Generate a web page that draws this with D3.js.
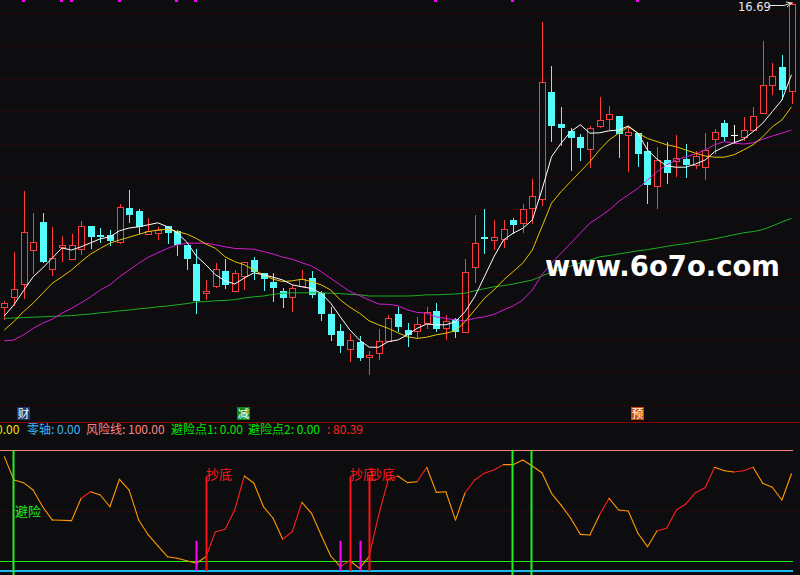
<!DOCTYPE html>
<html><head><meta charset="utf-8">
<script src="https://cdn.jsdelivr.net/npm/d3@7"></script>
<style>html,body{margin:0;padding:0;background:#0d0d10;overflow:hidden}svg{display:block}</style>
</head><body>
<svg id="c" width="800" height="575"></svg>
<script>
// ---------- data ----------
const opens  = [9.06,9.31,9.63,10.48,11.19,10.01,10.57,10.27,10.51,11.09,10.87,10.87,10.70,11.54,11.47,10.88,10.92,11.09,10.97,10.62,10.14,9.41,9.60,9.97,9.47,9.85,10.24,9.91,9.69,9.47,9.32,9.60,9.79,9.42,8.89,8.47,8.02,8.20,7.82,7.91,8.22,8.89,8.49,8.47,8.67,8.97,8.53,8.76,8.43,10.07,10.82,10.74,10.76,11.24,11.16,11.53,11.77,14.43,13.64,13.47,13.31,13.01,13.59,13.76,13.84,13.36,13.41,12.97,12.10,12.74,12.72,12.77,12.62,12.57,13.26,13.66,13.36,13.32,13.48,13.91,14.61,15.07,14.47];
const highs  = [9.21,10.45,11.97,11.42,11.42,11.07,10.84,10.89,11.21,11.09,11.04,10.99,11.64,11.99,11.52,11.29,11.07,11.09,10.99,10.62,10.52,9.74,10.16,10.27,9.99,10.18,10.32,9.91,9.91,9.53,9.62,9.99,9.97,9.47,9.07,8.64,8.39,8.34,7.97,8.52,8.87,9.07,8.67,8.81,9.07,9.16,8.87,8.78,10.26,11.37,11.51,11.24,11.24,11.28,11.64,12.26,16.18,15.09,14.06,13.53,13.39,13.59,14.32,14.09,13.84,13.59,13.41,13.20,13.07,13.18,13.37,13.14,12.97,13.42,13.52,13.74,13.62,13.82,14.06,15.72,15.17,15.37,16.69];
const lows   = [8.76,9.12,9.28,9.91,10.18,9.87,10.22,10.26,10.39,10.53,10.70,10.62,10.66,11.19,10.91,10.88,10.77,10.67,10.37,10.02,8.92,9.27,9.57,9.55,9.47,9.52,9.77,9.49,9.22,9.07,8.97,9.60,9.31,8.74,8.24,7.94,7.72,7.74,7.39,7.77,8.22,8.47,8.10,8.28,8.53,8.47,8.27,8.32,8.43,9.70,10.41,10.51,10.57,10.91,10.93,11.16,11.62,13.22,13.12,12.49,12.74,12.57,13.57,13.51,12.82,12.47,12.60,11.67,11.55,12.17,12.34,12.32,12.53,12.27,12.91,13.24,13.16,13.24,13.48,13.91,14.39,14.26,14.16];
const closes = [9.16,9.51,10.93,10.68,10.20,10.28,10.61,10.61,11.08,10.82,10.82,10.72,11.56,11.37,11.07,10.97,10.99,10.92,10.62,10.27,9.22,9.46,10.01,9.62,9.91,10.18,9.93,9.77,9.55,9.30,9.53,9.76,9.37,8.89,8.37,8.09,8.24,7.79,7.86,8.22,8.78,8.56,8.37,8.64,8.93,8.52,8.72,8.45,9.95,10.67,10.77,10.81,11.02,11.12,11.51,11.84,14.68,13.60,13.55,13.28,13.03,13.53,13.74,13.88,13.38,13.43,12.89,12.12,12.74,12.42,12.78,12.62,12.84,12.99,13.43,13.32,13.36,13.49,13.83,14.61,14.85,14.49,16.64];

const maWhite  = [8.84,9.12,9.47,9.82,10.04,10.29,10.54,10.49,10.57,10.67,10.77,10.82,10.97,11.04,11.07,11.12,11.17,11.07,10.92,10.69,10.34,10.12,9.87,9.72,9.64,9.79,9.92,9.87,9.81,9.74,9.62,9.57,9.53,9.41,9.16,8.82,8.49,8.24,8.06,8.06,8.20,8.24,8.37,8.53,8.64,8.62,8.62,8.70,8.95,9.32,9.82,10.32,10.74,10.91,11.03,11.24,11.99,12.82,13.16,13.45,13.62,13.41,13.42,13.47,13.49,13.59,13.41,12.99,12.76,12.59,12.56,12.56,12.64,12.74,12.95,13.07,13.17,13.26,13.45,13.66,13.95,14.24,14.87];
const maYellow = [8.49,8.70,8.95,9.16,9.41,9.66,9.82,9.99,10.20,10.39,10.53,10.66,10.74,10.81,10.88,10.95,10.99,11.01,10.95,10.89,10.78,10.64,10.53,10.32,10.20,10.12,9.99,9.87,9.76,9.70,9.72,9.76,9.70,9.62,9.49,9.24,9.06,8.91,8.72,8.62,8.53,8.42,8.32,8.28,8.31,8.37,8.41,8.47,8.70,8.99,9.28,9.49,9.74,9.95,10.16,10.49,11.07,11.66,11.95,12.20,12.45,12.70,12.99,13.24,13.41,13.57,13.41,13.28,13.20,13.12,13.07,12.99,12.91,12.84,12.81,12.81,12.87,12.99,13.12,13.32,13.57,13.74,14.07];
const maPurple = [8.22,8.24,8.37,8.53,8.66,8.76,8.91,9.03,9.17,9.32,9.49,9.62,9.82,9.99,10.16,10.31,10.42,10.53,10.62,10.66,10.66,10.66,10.62,10.57,10.53,10.52,10.51,10.45,10.39,10.31,10.26,10.17,10.09,9.95,9.78,9.62,9.45,9.35,9.24,9.14,9.13,9.10,8.99,8.93,8.91,8.82,8.78,8.74,8.72,8.78,8.82,8.88,8.99,9.09,9.24,9.49,9.87,10.16,10.41,10.66,10.91,11.16,11.32,11.49,11.70,11.87,12.03,12.24,12.45,12.62,12.74,12.82,12.89,12.99,13.12,13.20,13.16,13.14,13.17,13.26,13.34,13.41,13.49];
const maGreen  = [8.78,8.79,8.80,8.81,8.82,8.83,8.84,8.85,8.87,8.89,8.92,8.94,8.97,8.99,9.02,9.04,9.07,9.09,9.12,9.15,9.19,9.20,9.22,9.23,9.25,9.29,9.32,9.34,9.38,9.41,9.42,9.42,9.42,9.42,9.41,9.40,9.38,9.37,9.34,9.34,9.34,9.34,9.34,9.35,9.37,9.37,9.38,9.39,9.41,9.47,9.52,9.57,9.60,9.64,9.69,9.74,9.84,9.94,10.00,10.09,10.17,10.24,10.32,10.35,10.39,10.43,10.47,10.50,10.54,10.58,10.62,10.65,10.69,10.73,10.77,10.82,10.87,10.92,10.95,11.00,11.09,11.19,11.28];

const indicator = [94.5,75.2,73.0,66.9,53.1,42.1,41.9,41.6,60.1,65.5,62.8,53.1,75.8,66.9,42.1,29.8,20.7,11.8,10.5,8.5,6.4,11.8,32.5,34.5,50.4,78.5,72.5,53.1,43.6,26.2,32.5,56.8,47.7,29.8,12.4,3.6,8.5,2.2,11.8,46.3,75.8,78.5,73.0,73.8,85.7,65.0,65.5,42.1,64.7,75.2,80.7,83.5,87.9,87.9,91.7,86.8,81.2,64.2,54.5,43.6,30.3,29.8,46.3,60.1,50.4,49.6,31.2,20.1,33.3,35.3,50.4,55.4,64.7,68.8,85.7,82.9,81.8,82.9,85.7,72.5,69.2,58.7,80.39];
// 1 = red segment (from bar j to j+1), 0 = orange
const segRed = [0,0,0,0,0,0,0,0,1,0,0,0,0,0,0,0,0,0,0,0,0,1,1,1,1,0,0,0,0,1,1,0,0,0,0,1,0,0,1,1,1,0,0,1,0,0,0,0,1,1,1,1,0,0,0,0,0,0,0,0,0,0,1,0,0,0,0,0,1,1,1,1,1,1,0,0,1,1,0,0,0,0];

const riskLevel = 100, midLevel = 50, lowLevel = 8, zeroLevel = 0;
const avoidBars  = [1,53,55];     // green 避险 verticals
const bottomBars = [21,36,38];    // red 抄底 verticals
const preBars    = [20,35,37];    // magenta short verticals
const bottomTop = 78, preTop = 25;
const topMarks = [2,6,7,12,18,20,45,53,66];
const tags = [{i:2,t:"财",bg:"#1a3a6e"},{i:25,t:"减",bg:"#0f8a10"},{i:66,t:"预",bg:"#c34a0c"}];
const legendItems = [
  {t:"0.00", c:"#f0e000", x:-4},
  {t:"零轴: 0.00", c:"#3cb4f4", x:27},
  {t:"风险线: 100.00", c:"#ff8282", x:86},
  {t:"避险点1: 0.00", c:"#00e600", x:171},
  {t:"避险点2: 0.00", c:"#00e600", x:248},
  {t:": 80.39", c:"#ff2020", x:327}
];

// ---------- drawing ----------
const W=800, H=575, BG="#0d0d10";
const FONT='"Noto Sans CJK SC","Noto Sans",sans-serif';
const svg = d3.select("#c");
svg.append("rect").attr("width",W).attr("height",H).attr("fill",BG);
const n = closes.length;
const x = d3.scaleLinear().domain([0,n-1]).range([4.3,791.5]);
const y = d3.scaleLinear().domain([6.74,16.74]).range([400,0]);
const yI = d3.scaleLinear().domain([0,100]).range([571,450]);
const cx = i => Math.round(x(i));

// dotted grid of main panel
const gridY = d3.range(13).map(k => Math.round(13.3 + k*32.64) + 0.5);
svg.append("g").selectAll("line").data(gridY).join("line")
  .attr("x1",0).attr("x2",W).attr("y1",d=>d).attr("y2",d=>d)
  .attr("stroke","#4a0a0a").attr("stroke-dasharray","1,3");

// top magenta marks
svg.append("g").selectAll("rect").data(topMarks).join("rect")
  .attr("x",d=>cx(d)-2).attr("y",0).attr("width",3).attr("height",2).attr("fill","#ff00ff");

// candles
const cg = svg.append("g");
d3.range(n).forEach(i=>{
  const o=opens[i], c=closes[i], h=highs[i], l=lows[i];
  const col = c>o ? "#ff3c3c" : (c<o ? "#54fcfc" : "#ffffff");
  const X = cx(i);
  const yt = Math.round(y(Math.max(o,c))), yb = Math.round(y(Math.min(o,c)));
  cg.append("line").attr("x1",X+0.5).attr("x2",X+0.5)
    .attr("y1",Math.round(y(h))).attr("y2",Math.round(y(l))+1).attr("stroke",col);
  if (c>o) {
    cg.append("rect").attr("x",X-2.5).attr("y",yt+0.5).attr("width",6).attr("height",Math.max(yb-yt,1))
      .attr("fill",BG).attr("stroke",col);
  } else if (c<o) {
    cg.append("rect").attr("x",X-3).attr("y",yt).attr("width",7).attr("height",Math.max(yb-yt,1)).attr("fill",col);
  } else {
    cg.append("line").attr("x1",X-3).attr("x2",X+4).attr("y1",yt+0.5).attr("y2",yt+0.5).attr("stroke",col);
  }
});

// moving averages
const lineGen = d3.line().x((d,i)=>x(i)).y(d=>y(d));
[[maGreen,"#1fae1f"],[maPurple,"#d21ed2"],[maYellow,"#e6c400"],[maWhite,"#ffffff"]].forEach(([arr,col])=>{
  svg.append("path").attr("d",lineGen(arr)).attr("fill","none").attr("stroke",col).attr("stroke-width",1);
});

// watermark
svg.append("text").attr("x",545).attr("y",276).attr("fill","#ffffff")
  .attr("font-family",'"DejaVu Sans",sans-serif').attr("font-weight","bold").attr("font-size",29)
  .attr("textLength",235).attr("lengthAdjust","spacingAndGlyphs").text("www.6o7o.com");

// max label
const iMax = d3.maxIndex(highs);
svg.append("text").attr("x",cx(iMax)-54).attr("y",11).attr("fill","#e6e6e6")
  .attr("font-family",'"DejaVu Sans",sans-serif').attr("font-size",11.5).text(highs[iMax].toFixed(2));
svg.append("path").attr("d",`M${cx(iMax)-22},5.5 L${cx(iMax)-8},5.5 L${cx(iMax)-1},${Math.round(y(highs[iMax]))+1}`)
  .attr("fill","none").attr("stroke","#e6e6e6");
svg.append("path").attr("d",`M${cx(iMax)-6},2 L${cx(iMax)},${Math.round(y(highs[iMax]))+1} L${cx(iMax)-5},7`)
  .attr("fill","none").attr("stroke","#e6e6e6");

// tags
tags.forEach(d=>{
  const X = cx(d.i);
  svg.append("rect").attr("x",X-7).attr("y",407).attr("width",13).attr("height",13).attr("fill",d.bg);
  svg.append("text").attr("x",X-0.5).attr("y",418).attr("text-anchor","middle").attr("fill","#ffffff")
    .attr("font-family",FONT).attr("font-size",11.5).text(d.t);
});

// separator
svg.append("line").attr("x1",0).attr("x2",W).attr("y1",422.5).attr("y2",422.5).attr("stroke","#8a0000");

// legend
legendItems.forEach(d=>{
  svg.append("text").attr("x",d.x).attr("y",434).attr("fill",d.c)
    .attr("font-family",FONT).attr("font-size",12).text(d.t);
});

// indicator panel
const xEnd = cx(n-1)+1;
svg.append("line").attr("x1",0).attr("x2",W).attr("y1",Math.round(yI(midLevel))+0.5).attr("y2",Math.round(yI(midLevel))+0.5)
  .attr("stroke","#4a0a0a").attr("stroke-dasharray","1,3");
svg.append("line").attr("x1",xEnd).attr("x2",W).attr("y1",Math.round(yI(riskLevel))+0.5).attr("y2",Math.round(yI(riskLevel))+0.5)
  .attr("stroke","#4a0a0a").attr("stroke-dasharray","1,3");
svg.append("line").attr("x1",0).attr("x2",xEnd).attr("y1",Math.round(yI(riskLevel))+0.5).attr("y2",Math.round(yI(riskLevel))+0.5)
  .attr("stroke","#ff8080");
svg.append("line").attr("x1",0).attr("x2",xEnd).attr("y1",Math.round(yI(lowLevel))+0.5).attr("y2",Math.round(yI(lowLevel))+0.5)
  .attr("stroke","#1ef01e");
svg.append("line").attr("x1",0).attr("x2",xEnd).attr("y1",Math.round(yI(zeroLevel))).attr("y2",Math.round(yI(zeroLevel)))
  .attr("stroke","#1cb8f0").attr("stroke-width",2);

// indicator curve
const ig = svg.append("g");
d3.range(n-1).forEach(j=>{
  ig.append("line").attr("x1",x(j)).attr("y1",yI(indicator[j])).attr("x2",x(j+1)).attr("y2",yI(indicator[j+1]))
    .attr("stroke",segRed[j] ? "#ff1e1e" : "#ff9a00").attr("stroke-width",1.1).attr("stroke-linecap","round");
});

// signal verticals
preBars.forEach(i=>{
  svg.append("line").attr("x1",cx(i)+0.5).attr("x2",cx(i)+0.5).attr("y1",yI(preTop)).attr("y2",yI(zeroLevel))
    .attr("stroke","#ff00ff").attr("stroke-width",2);
});
bottomBars.forEach(i=>{
  svg.append("line").attr("x1",cx(i)+0.5).attr("x2",cx(i)+0.5).attr("y1",yI(bottomTop)).attr("y2",yI(zeroLevel))
    .attr("stroke","#ff1010").attr("stroke-width",2);
  svg.append("text").attr("x",cx(i)).attr("y",yI(bottomTop)+2).attr("fill","#ff1a1a")
    .attr("font-family",FONT).attr("font-size",13).text("抄底");
});
avoidBars.forEach(i=>{
  svg.append("line").attr("x1",cx(i)-0.5).attr("x2",cx(i)-0.5).attr("y1",yI(riskLevel)).attr("y2",H)
    .attr("stroke","#22ee22").attr("stroke-width",2);
});
svg.append("text").attr("x",cx(avoidBars[0])+1).attr("y",516).attr("fill","#22ee22")
  .attr("font-family",FONT).attr("font-size",13).text("避险");
</script>
</body></html>
